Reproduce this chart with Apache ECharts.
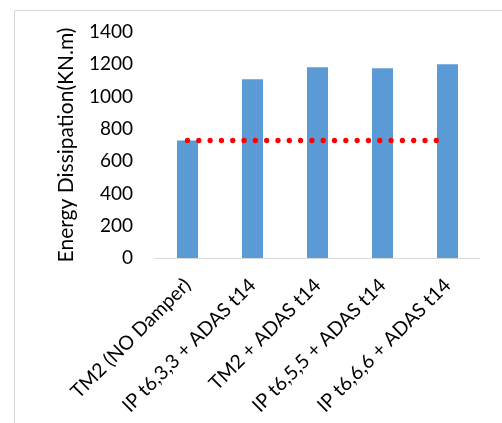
<!DOCTYPE html>
<html><head><meta charset="utf-8">
<script src="https://cdn.jsdelivr.net/npm/echarts@6/dist/echarts.min.js"></script>
<style>html,body{margin:0;padding:0;background:#fff}#c{width:502px;height:423px}</style>
</head><body><div id="c"></div>
<script>
const categories = ['TM2 (NO Damper)', 'IP t6,3,3 + ADAS t14', 'TM2 + ADAS t14', 'IP t6,5,5 + ADAS t14', 'IP t6,6,6 + ADAS t14'];
const energy = [728, 1108, 1182, 1175, 1200];
const reference = [728, 728, 728, 728, 728];
const yTicks = [0, 200, 400, 600, 800, 1000, 1200, 1400];
const yTitle = 'Energy Dissipation(KN.m)';
const FONT = 'Lato';
const chart = echarts.init(document.getElementById('c'), null, {renderer: 'canvas'});
chart.setOption({
  animation: false,
  graphic: [{type: 'rect', shape: {x: 14.5, y: 10.5, width: 600, height: 600}, style: {fill: 'none', stroke: '#d9d9d9', lineWidth: 1}, silent: true}],
  grid: {left: 155, right: 22, top: 32, bottom: 165},
  xAxis: {
    type: 'category', data: categories,
    axisLine: {lineStyle: {color: '#d9d9d9', width: 1}},
    axisTick: {show: false},
    axisLabel: {rotate: 45, interval: 0, color: '#000', fontFamily: FONT, fontSize: 19.5, margin: 24}
  },
  yAxis: {
    type: 'value', min: yTicks[0], max: yTicks[yTicks.length - 1], interval: 200,
    name: yTitle, nameLocation: 'middle', nameGap: 78, nameRotate: 90,
    nameTextStyle: {color: '#000', fontFamily: FONT, fontSize: 21},
    axisLine: {show: false}, axisTick: {show: false}, splitLine: {show: false},
    axisLabel: {color: '#000', fontFamily: FONT, fontSize: 19, margin: 22, formatter: v => String(v)}
  },
  series: [
    {type: 'bar', data: energy, barWidth: 21, itemStyle: {color: '#5b9bd5'}},
    {type: 'line', data: reference, symbol: 'none', z: 5,
     lineStyle: {color: '#ff0000', width: 5.3, type: [0.01, 11.3], cap: 'round'}}
  ]
});
</script></body></html>
